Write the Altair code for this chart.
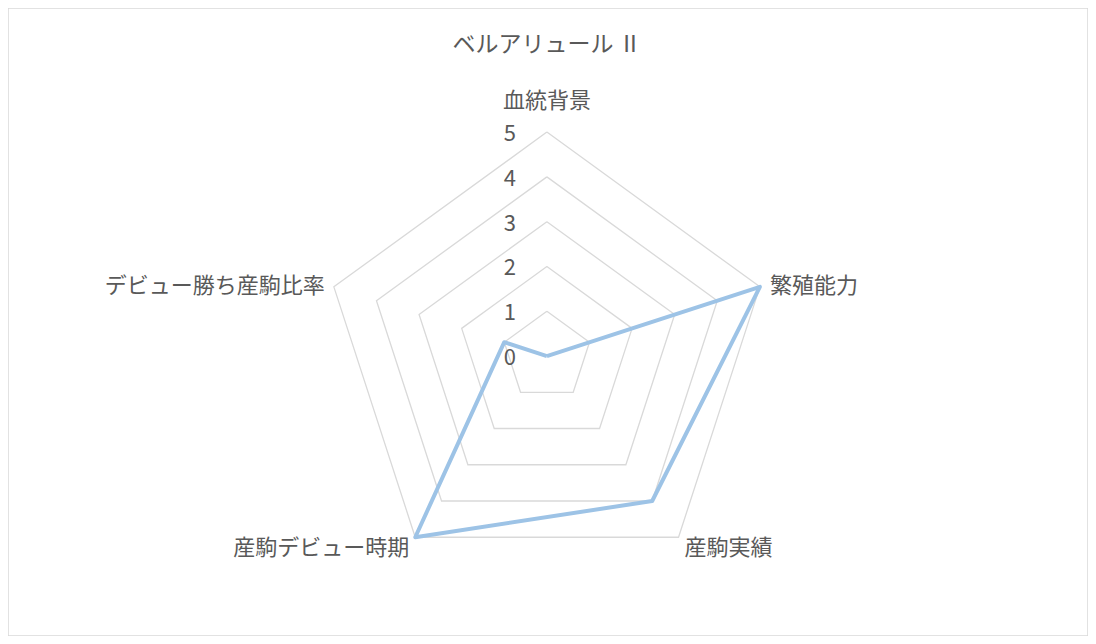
import altair as alt
import pandas as pd

# ---- data ----
title_text = "ベルアリュール Ⅱ"
categories = ["血統背景", "繁殖能力", "産駒実績", "産駒デビュー時期", "デビュー勝ち産駒比率"]
values = [0, 5, 4, 5, 1]
levels = [1, 2, 3, 4, 5]
tick_labels = [0, 1, 2, 3, 4, 5]
max_value = 5

n = len(categories)
step = 360 / n

# closed polygon of data values
series_rows = []
for k in range(n + 1):
    i = k % n
    series_rows.append({"cat": categories[i], "idx": i, "ord": k, "v": values[i]})
series_df = pd.DataFrame(series_rows)

# gridline pentagons
grid_rows = []
for lv in levels:
    for k in range(n + 1):
        i = k % n
        grid_rows.append({"level": lv, "idx": i, "ord": k, "v": lv})
grid_df = pd.DataFrame(grid_rows)

label_df = pd.DataFrame({"cat": categories, "idx": list(range(n)), "v": [max_value] * n})
tick_df = pd.DataFrame({"t": tick_labels, "v": tick_labels, "idx": [0] * len(tick_labels)})

TEXT = "#595959"
FONT = "Noto Sans CJK JP"

W, H = 1080, 628
xs = alt.Scale(domain=[-12.03, 12.08], nice=False, zero=False)
ys = alt.Scale(domain=[-6.25, 7.77], nice=False, zero=False)

def polar(ch):
    return ch.transform_calculate(
        ang=f"datum.idx * {step} * PI / 180"
    ).transform_calculate(
        px="datum.v * sin(datum.ang)", py="datum.v * cos(datum.ang)"
    )

X = alt.X("px:Q", scale=xs, axis=None)
Y = alt.Y("py:Q", scale=ys, axis=None)

grid = polar(alt.Chart(grid_df)).mark_line(
    color="#d9d9d9", strokeWidth=1.3
).encode(x=X, y=Y, detail="level:N", order="ord:Q")

line = polar(alt.Chart(series_df)).mark_line(
    color="#9dc3e6", strokeWidth=4, strokeJoin="round"
).encode(x=X, y=Y, order="ord:Q")

ticks = polar(alt.Chart(tick_df)).mark_text(
    align="right", baseline="middle", dx=-31, dy=2, font=FONT, fontSize=22, color=TEXT
).encode(x=X, y=Y, text="t:N")

label_styles = {
    0: dict(align="center", baseline="middle", dx=0, dy=-31),
    1: dict(align="left", baseline="middle", dx=10, dy=-1),
    2: dict(align="left", baseline="middle", dx=6, dy=11),
    3: dict(align="right", baseline="middle", dx=-6, dy=11),
    4: dict(align="right", baseline="middle", dx=-9, dy=-1),
}
label_layers = []
for i, st in label_styles.items():
    label_layers.append(
        polar(alt.Chart(label_df).transform_filter(f"datum.idx == {i}")).mark_text(
            font=FONT, fontSize=22, color=TEXT, **st
        ).encode(x=X, y=Y, text="cat:N")
    )

title = alt.Chart(pd.DataFrame({"t": [title_text]})).mark_text(
    font=FONT, fontSize=23, color=TEXT, align="center", baseline="middle"
).encode(x=alt.value(539), y=alt.value(37), text="t:N")

chart = alt.layer(grid, line, ticks, *label_layers, title).properties(
    width=W, height=H, padding=0
).configure_view(stroke="#d9d9d9", strokeWidth=1.5)

chart.save("out.html", embed_options={"renderer": "svg", "actions": False})
